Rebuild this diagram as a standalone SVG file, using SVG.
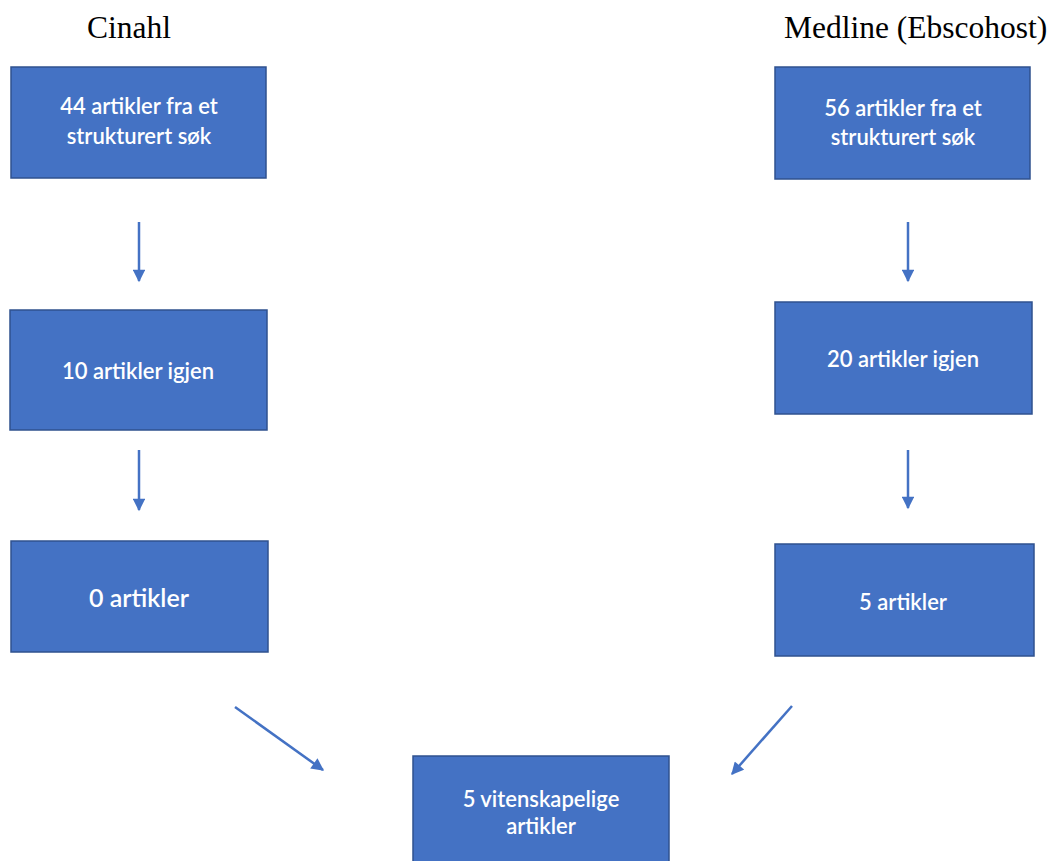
<svg xmlns="http://www.w3.org/2000/svg" width="1052" height="861" viewBox="0 0 1052 861">
<style>
.box{fill:#4472C4;stroke:#2F528F;stroke-width:1.5}
.lbl{font-family:Lato,"Open Sans","Liberation Sans",sans-serif;font-size:22px;fill:#fff;text-anchor:middle;font-weight:600}
.big{font-size:25px}
.title{font-family:"Liberation Serif","Times New Roman",serif;font-size:31.5px;fill:#000}
.conn{stroke:#4472C4;stroke-width:2.5;fill:none;marker-end:url(#ah)}
</style>
<defs>
<marker id="ah" viewBox="0 0 10 10" refX="9" refY="5" markerWidth="5.5" markerHeight="5" markerUnits="strokeWidth" orient="auto">
<path d="M0,0 L10,5 L0,10 Z" fill="#4472C4"/>
</marker>
</defs>
<rect width="1052" height="861" fill="#fff"/>
<text class="title" x="87" y="38">Cinahl</text>
<text class="title" x="784" y="38">Medline (Ebscohost)</text>
<g id="c1"><rect class="box" x="11" y="67" width="255" height="111"/><text class="lbl" x="139" y="114">44 artikler fra et</text><text class="lbl" x="139" y="144">strukturert søk</text></g>
<g id="m1"><rect class="box" x="775" y="67" width="255" height="112"/><text class="lbl" x="903" y="116">56 artikler fra et</text><text class="lbl" x="903" y="145">strukturert søk</text></g>
<g id="c2"><rect class="box" x="10" y="310" width="257" height="120"/><text class="lbl" x="138" y="379">10 artikler igjen</text></g>
<g id="m2"><rect class="box" x="775" y="302" width="257" height="112"/><text class="lbl" x="903" y="367">20 artikler igjen</text></g>
<g id="c3"><rect class="box" x="11" y="541" width="257" height="111"/><text class="lbl big" x="139" y="607">0 artikler</text></g>
<g id="m3"><rect class="box" x="775" y="544" width="259" height="112"/><text class="lbl" x="903" y="610">5 artikler</text></g>
<g id="res"><rect class="box" x="413" y="756" width="256" height="110"/><text class="lbl" x="541" y="807">5 vitenskapelige</text><text class="lbl" x="541" y="834">artikler</text></g>
<g id="connectors">
<line class="conn" x1="139" y1="222" x2="139" y2="281"/>
<line class="conn" x1="139" y1="450" x2="139" y2="510"/>
<line class="conn" x1="908" y1="222" x2="908" y2="281"/>
<line class="conn" x1="908" y1="450" x2="908" y2="508"/>
<line class="conn" x1="235" y1="707" x2="323" y2="770"/>
<line class="conn" x1="792" y1="706" x2="732" y2="774"/>
</g>
</svg>
